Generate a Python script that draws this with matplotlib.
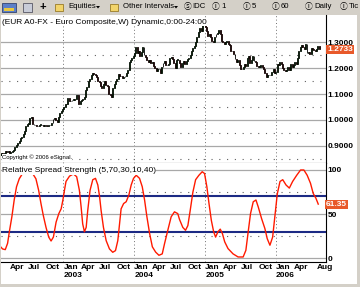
import matplotlib
matplotlib.use("Agg")
import matplotlib.pyplot as plt
import matplotlib.transforms as mtransforms
from matplotlib.patches import Rectangle, Polygon
import pandas as pd
import numpy as np

plt.rcParams['font.family'] = ['Liberation Sans', 'DejaVu Sans']

# ---------------- data ----------------
first_week = "2002-02-08"   # weekly bars (Fridays)
close_2002 = [0.866, 0.872, 0.870,
              0.872, 0.880, 0.878, 0.882, 0.873,
              0.877, 0.880, 0.886, 0.897,
              0.905, 0.912, 0.918, 0.930, 0.933,
              0.945, 0.958, 0.975, 0.985,
              0.985, 1.008, 1.010, 0.985,
              0.980, 0.980, 0.977, 0.975, 0.981,
              0.982, 0.980, 0.978, 0.980,
              0.976, 0.978, 0.982, 0.980,
              0.988, 1.005, 1.009, 1.000, 0.994,
              1.010, 1.028, 1.035, 1.044]
close_2003 = [1.050, 1.060, 1.062, 1.083, 1.075,
              1.072, 1.078, 1.078, 1.080,
              1.095, 1.098, 1.060, 1.075,
              1.078, 1.082, 1.090, 1.115,
              1.128, 1.150, 1.158, 1.175, 1.180,
              1.176, 1.175, 1.166, 1.150,
              1.145, 1.130, 1.124, 1.140,
              1.150, 1.135, 1.130, 1.100, 1.098,
              1.087, 1.123, 1.140, 1.152,
              1.160, 1.178, 1.170, 1.168, 1.163,
              1.165, 1.170, 1.180, 1.194,
              1.222, 1.230, 1.238, 1.245]
close_2004 = [1.260, 1.282, 1.260, 1.268, 1.245,
              1.262, 1.280, 1.252, 1.243,
              1.232, 1.225, 1.232, 1.218,
              1.225, 1.210, 1.202, 1.190, 1.198,
              1.195, 1.180, 1.205, 1.220,
              1.226, 1.214, 1.212, 1.215,
              1.238, 1.242, 1.236, 1.218, 1.202,
              1.232, 1.233, 1.218, 1.203,
              1.218, 1.228, 1.217, 1.226,
              1.237, 1.238, 1.252, 1.265, 1.277,
              1.285, 1.300, 1.320, 1.340,
              1.355, 1.345, 1.370, 1.378, 1.360]
close_2005 = [1.345, 1.325, 1.330, 1.320,
              1.305, 1.300, 1.320, 1.330,
              1.335, 1.348, 1.330, 1.305,
              1.300, 1.295, 1.300, 1.305, 1.292,
              1.288, 1.268, 1.265, 1.255,
              1.235, 1.225, 1.232, 1.212,
              1.195, 1.198, 1.205, 1.215, 1.210,
              1.240, 1.247, 1.218, 1.232,
              1.245, 1.228, 1.225, 1.210, 1.205,
              1.205, 1.212, 1.205, 1.195,
              1.183, 1.167, 1.174, 1.172,
              1.175, 1.186, 1.197, 1.183, 1.184]
close_2006 = [1.215, 1.213, 1.225, 1.215,
              1.200, 1.192, 1.190, 1.193,
              1.205, 1.192, 1.215, 1.205, 1.212,
              1.225, 1.215, 1.238, 1.265,
              1.283, 1.290, 1.282, 1.272,
              1.293, 1.260, 1.262, 1.253, 1.278,
              1.273, 1.270, 1.268, 1.275,
              1.285, 1.2733]
last_price_label = "1.2733"

rss_dates = ['2002-02-04', '2002-02-21', '2002-03-07', '2002-03-19', '2002-03-28',
             '2002-04-10', '2002-04-22', '2002-05-04', '2002-05-18', '2002-06-04',
             '2002-06-30', '2002-07-26', '2002-08-12', '2002-08-26', '2002-09-07',
             '2002-09-19', '2002-10-03', '2002-10-17', '2002-10-29', '2002-11-10',
             '2002-11-24', '2002-12-08', '2002-12-20', '2002-12-29', '2003-01-06',
             '2003-01-14', '2003-02-01', '2003-02-21', '2003-03-10', '2003-03-24',
             '2003-04-02', '2003-04-10', '2003-04-19', '2003-04-28', '2003-05-06',
             '2003-05-18', '2003-06-01', '2003-06-15', '2003-06-27', '2003-07-06',
             '2003-07-14', '2003-07-26', '2003-08-09', '2003-08-26', '2003-09-12',
             '2003-09-26', '2003-10-08', '2003-10-17', '2003-10-25', '2003-11-07',
             '2003-11-20', '2003-12-04', '2003-12-16', '2003-12-28', '2004-01-11',
             '2004-01-28', '2004-02-11', '2004-02-23', '2004-03-06', '2004-03-20',
             '2004-04-03', '2004-04-20', '2004-05-07', '2004-05-24', '2004-06-05',
             '2004-06-22', '2004-07-09', '2004-07-26', '2004-08-12', '2004-08-21',
             '2004-09-07', '2004-09-21', '2004-10-03', '2004-10-15', '2004-10-29',
             '2004-11-12', '2004-11-29', '2004-12-16', '2004-12-28', '2005-01-09',
             '2005-01-20', '2005-02-01', '2005-02-13', '2005-02-23', '2005-03-07',
             '2005-03-19', '2005-03-30', '2005-04-11', '2005-04-28', '2005-05-24',
             '2005-06-19', '2005-07-15', '2005-07-29', '2005-08-10', '2005-08-22',
             '2005-09-05', '2005-09-19', '2005-10-01', '2005-10-18', '2005-11-04',
             '2005-11-16', '2005-11-30', '2005-12-14', '2005-12-26', '2006-01-07',
             '2006-01-21', '2006-02-04', '2006-02-21', '2006-03-10', '2006-03-27',
             '2006-04-17', '2006-05-07', '2006-05-24', '2006-06-10', '2006-06-27',
             '2006-07-11', '2006-07-25', '2006-08-06']
rss_values = [14.8, 10.6, 9.8, 17, 30, 47, 66, 81, 90, 96,
              97, 96, 90, 77, 62, 48.5, 35, 24, 19.6, 24,
              41, 50.6, 56, 66, 77, 87, 93, 95.5, 92.4, 77,
              58, 39, 30, 35, 54, 77, 89, 90.5, 83, 70,
              54, 35, 20, 10.6, 6.8, 8.7, 20, 39, 56, 62,
              64, 71.6, 83, 90.5, 94, 90.5, 81, 66, 47, 28,
              13, 7, 3.4, 5, 16.7, 32, 47, 52.6, 50.6, 44,
              35, 31.7, 37, 54, 75, 89, 94, 98, 96, 81,
              62, 43, 30, 24, 30, 33, 28, 18.6, 11, 5,
              1.5, 1.5, 9, 30, 50.6, 64, 66, 58, 45, 33.7,
              22.3, 14.8, 24, 48.5, 73, 87, 89, 83, 79.5, 87,
              94, 100, 100, 94, 85, 73.5, 68, 61.35]
last_rss_label = "61.35"

price_ticks = [0.9, 1.0, 1.1, 1.2, 1.3]
price_dotted = [0.85, 0.95, 1.05, 1.15, 1.25]
rss_ticks = [0, 50, 100]
rss_dotted = [25, 75]
rss_bands = [30, 70]
year_lines = ["2003-01-01", "2004-01-01", "2005-01-01", "2006-01-01"]
month_ticks = ["2002-04-01", "2002-07-01", "2002-10-01",
               "2003-01-01", "2003-04-01", "2003-07-01", "2003-10-01",
               "2004-01-01", "2004-04-01", "2004-07-01", "2004-10-01",
               "2005-01-01", "2005-04-01", "2005-07-01", "2005-10-01",
               "2006-01-01", "2006-04-01", "2006-08-01"]
month_labels = ["Apr", "Jul", "Oct",
                "Jan\n2003", "Apr", "Jul", "Oct",
                "Jan\n2004", "Apr", "Jul", "Oct",
                "Jan\n2005", "Apr", "Jul", "Oct",
                "Jan\n2006", "Apr", "Aug"]
x_range = ["2002-02-13", "2006-09-15"]

title_text = "(EUR A0-FX - Euro Composite,W) Dynamic,0:00-24:00"
indicator_text = "Relative Spread Strength (5,70,30,10,40)"
copyright_text = "Copyright \u00a9 2006 eSignal."
tool_items = [(184, "\u24c8"), (192, "IDC"), (212, "\u24be"), (221, "1"),
              (243, "\u24be"), (252, "5"), (272, "\u24be"), (281, "60"),
              (305, "\u24be"), (314, "Daily"), (340, "\u24be"), (349, "Tic")]

# ---------------- figure ----------------
W, H = 360, 287
fig = plt.figure(figsize=(W / 100, H / 100), dpi=100)
fig.patch.set_facecolor('#d4d0c8')


def fx(px):
    return px / W


def fy(py):
    return 1 - py / H


# white chart area
fig.add_artist(Rectangle((fx(1), fy(284)), fx(356), (284 - 15) / H,
                         transform=fig.transFigure, facecolor='white',
                         edgecolor='none', zorder=-5))

# toolbar
tb_y = fy(7)
fig.add_artist(Rectangle((fx(2), fy(12)), fx(14), 9 / H, transform=fig.transFigure,
                         facecolor='#5b7fc8', edgecolor='#203060', lw=0.5))
fig.add_artist(Rectangle((fx(4), fy(11)), fx(10), 3 / H, transform=fig.transFigure,
                         facecolor='#e8c840', edgecolor='none'))
fig.add_artist(Rectangle((fx(23), fy(12)), fx(9), 9 / H, transform=fig.transFigure,
                         facecolor='#c8ccd8', edgecolor='#404050', lw=0.5))
fig.text(fx(40), tb_y, "+", fontsize=8, fontweight='bold', va='center', ha='left')
for fxp in (55, 110):
    fig.add_artist(Rectangle((fx(fxp), fy(11)), fx(8), 7 / H, transform=fig.transFigure,
                             facecolor='#f2d46a', edgecolor='#8a6a10', lw=0.5))
fig.text(fx(68), tb_y, "Equities", fontsize=5.6, va='center', ha='left')
fig.text(fx(123), tb_y, "Other Intervals", fontsize=5.6, va='center', ha='left')
for ax_px in (98, 176):
    fig.add_artist(Polygon([[fx(ax_px - 2), fy(6)], [fx(ax_px + 2), fy(6)], [fx(ax_px), fy(8.5)]],
                           closed=True, transform=fig.transFigure, facecolor='black',
                           edgecolor='none'))
for px, s in tool_items:
    fig.text(fx(px), tb_y, s, fontsize=5.6, va='center', ha='left',
             family=['Liberation Sans', 'Noto Sans CJK JP', 'DejaVu Sans'])

# axes
ax1 = fig.add_axes([fx(1), fy(163), fx(325), (163 - 15) / H])
ax2 = fig.add_axes([fx(1), fy(262), fx(325), (262 - 163) / H])
xlim = pd.to_datetime(x_range)

for ax in (ax1, ax2):
    ax.set_facecolor('white')
    ax.spines['left'].set_visible(False)
    ax.spines['top'].set_visible(False)
    ax.spines['right'].set_linewidth(0.8)
    ax.spines['bottom'].set_linewidth(0.8)
    ax.set_xlim(xlim[0], xlim[1])
    ax.yaxis.tick_right()
    ax.tick_params(axis='y', length=0, pad=1.2, labelsize=6)
    for d in year_lines:
        ax.axvline(pd.Timestamp(d), color='#707070', lw=0.7, ls=(0, (1, 2.5)), zorder=1)

# price panel
closes = np.array(close_2002 + close_2003 + close_2004 + close_2005 + close_2006)
dates = pd.date_range(first_week, periods=len(closes), freq='7D')
opens = np.r_[closes[0], closes[:-1]]
for v in price_ticks:
    ax1.axhline(v, color='#a8a8a8', lw=0.9, zorder=1)
for v in price_dotted:
    ax1.axhline(v, color='#606060', lw=0.8, ls=(0, (1, 6)), zorder=1)
colors = np.where(closes >= opens, '#10b010', '#e01010')
bottoms = np.minimum(opens, closes)
heights = np.maximum(np.abs(closes - opens), 0.002)
ax1.bar(dates, heights, bottom=bottoms, width=5, color=colors,
        edgecolor='black', linewidth=0.6, zorder=3)
ax1.set_ylim(0.834, 1.405)
ax1.set_yticks(price_ticks)
ax1.set_yticklabels([f"{v:.4f}" for v in price_ticks], fontweight='bold')
ax1.set_xticks([])
blend1 = mtransforms.blended_transform_factory(ax1.transAxes, ax1.transData)
ax1.text(1.003, closes[-1], last_price_label, transform=blend1, ha='left', va='center',
         color='white', fontsize=6, fontweight='bold', zorder=10,
         bbox=dict(boxstyle='square,pad=0.12', fc='#e8592a', ec='none'))

# RSS panel
for v in rss_ticks:
    ax2.axhline(v, color='#a8a8a8', lw=0.9, zorder=1)
for v in rss_dotted:
    ax2.axhline(v, color='#606060', lw=0.8, ls=(0, (1, 6)), zorder=1)
for v in rss_bands:
    ax2.axhline(v, color='#1c2a84', lw=1.5, zorder=2)
ax2.plot(pd.to_datetime(rss_dates), rss_values, color='#ff1a00', lw=1.0, zorder=3)
ax2.set_ylim(-4.2, 107.9)
ax2.set_yticks(rss_ticks)
ax2.set_yticklabels([str(v) for v in rss_ticks], fontweight='bold')
ax2.set_xticks(pd.to_datetime(month_ticks))
ax2.set_xticklabels(month_labels, ha='left', fontweight='bold', fontsize=6, linespacing=1.1)
ax2.tick_params(axis='x', length=0, pad=1.5)
blend2 = mtransforms.blended_transform_factory(ax2.transAxes, ax2.transData)
ax2.text(1.0, rss_values[-1], last_rss_label, transform=blend2, ha='left', va='center',
         color='white', fontsize=6, fontweight='bold', zorder=10,
         bbox=dict(boxstyle='square,pad=0.12', fc='#e8592a', ec='none'))

# texts
fig.text(fx(2), fy(22.5), title_text, fontsize=6, va='center', ha='left',
         bbox=dict(boxstyle='square,pad=0', fc='white', ec='none'))
fig.text(fx(2), fy(157), copyright_text, fontsize=4.3, va='center', ha='left',
         bbox=dict(boxstyle='square,pad=0', fc='white', ec='none'))
fig.text(fx(2), fy(171), indicator_text, fontsize=6, va='center', ha='left',
         bbox=dict(boxstyle='square,pad=0.05', fc='white', ec='none'))

fig.savefig("out.png", dpi=100, facecolor=fig.get_facecolor())
